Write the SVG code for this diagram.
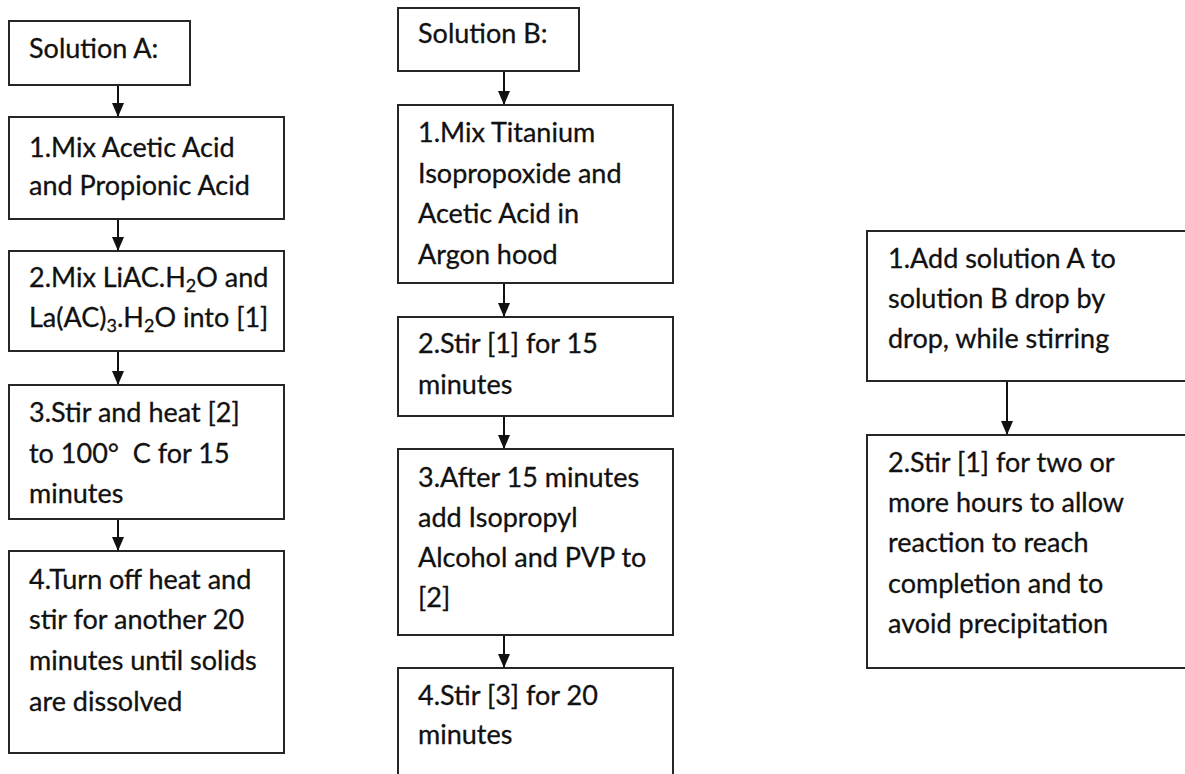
<svg xmlns="http://www.w3.org/2000/svg" width="1185" height="774" viewBox="0 0 1185 774">
<style>
.box{fill:#fff;stroke:#262626;stroke-width:2}
.t{font-family:Lato,"Liberation Sans",sans-serif;font-size:27px;fill:#111;stroke:#111;stroke-width:0.3}
.sub{font-size:18px}
.c{stroke:#111;stroke-width:2;fill:none}
</style>
<defs>
<marker id="ad" markerWidth="14" markerHeight="12" refX="14" refY="6" orient="auto" markerUnits="userSpaceOnUse" viewBox="0 0 14 12">
<path d="M0,0 L14,6 L0,12 Z" fill="#111"/>
</marker>
</defs>
<rect width="1185" height="774" fill="#fff"/>
<g id="connectors">
<line class="c" x1="118" y1="85" x2="118" y2="117" marker-end="url(#ad)"/>
<line class="c" x1="118" y1="219" x2="118" y2="251" marker-end="url(#ad)"/>
<line class="c" x1="118" y1="351" x2="118" y2="385" marker-end="url(#ad)"/>
<line class="c" x1="118" y1="519" x2="118" y2="551" marker-end="url(#ad)"/>
<line class="c" x1="504" y1="71" x2="504" y2="105" marker-end="url(#ad)"/>
<line class="c" x1="504" y1="283" x2="504" y2="317" marker-end="url(#ad)"/>
<line class="c" x1="504" y1="416" x2="504" y2="449" marker-end="url(#ad)"/>
<line class="c" x1="504" y1="635" x2="504" y2="668" marker-end="url(#ad)"/>
<line class="c" x1="1007" y1="381" x2="1007" y2="435" marker-end="url(#ad)"/>
</g>
<g id="solA">
<rect class="box" x="9" y="21" width="181" height="64"/>
<text class="t" x="29" y="58">Solution A:</text>
</g>
<g id="a1">
<rect class="box" x="9" y="117" width="275" height="102"/>
<text class="t" x="29" y="157">1.Mix Acetic Acid</text>
<text class="t" x="29" y="195">and Propionic Acid</text>
</g>
<g id="a2">
<rect class="box" x="9" y="251" width="275" height="100"/>
<text class="t" x="29" y="287">2.Mix LiAC.H<tspan class="sub" dy="5">2</tspan><tspan dy="-5">O and</tspan></text>
<text class="t" x="29" y="327">La(AC)<tspan class="sub" dy="5">3</tspan><tspan dy="-5">.H</tspan><tspan class="sub" dy="5">2</tspan><tspan dy="-5">O into [1]</tspan></text>
</g>
<g id="a3">
<rect class="box" x="9" y="385" width="275" height="134"/>
<text class="t" x="29" y="422">3.Stir and heat [2]</text>
<text class="t" x="29" y="463">to 100°&#160; C for 15</text>
<text class="t" x="29" y="503">minutes</text>
</g>
<g id="a4">
<rect class="box" x="9" y="551" width="275" height="202"/>
<text class="t" x="29" y="589">4.Turn off heat and</text>
<text class="t" x="29" y="629">stir for another 20</text>
<text class="t" x="29" y="670">minutes until solids</text>
<text class="t" x="29" y="711">are dissolved</text>
</g>
<g id="solB">
<rect class="box" x="398" y="8" width="181" height="63"/>
<text class="t" x="418" y="43">Solution B:</text>
</g>
<g id="b1">
<rect class="box" x="398" y="105" width="275" height="178"/>
<text class="t" x="418" y="142">1.Mix Titanium</text>
<text class="t" x="418" y="183">Isopropoxide and</text>
<text class="t" x="418" y="223">Acetic Acid in</text>
<text class="t" x="418" y="264">Argon hood</text>
</g>
<g id="b2">
<rect class="box" x="398" y="317" width="275" height="99"/>
<text class="t" x="418" y="353">2.Stir [1] for 15</text>
<text class="t" x="418" y="394">minutes</text>
</g>
<g id="b3">
<rect class="box" x="398" y="449" width="275" height="186"/>
<text class="t" x="418" y="487">3.After 15 minutes</text>
<text class="t" x="418" y="527">add Isopropyl</text>
<text class="t" x="418" y="567">Alcohol and PVP to</text>
<text class="t" x="418" y="607">[2]</text>
</g>
<g id="b4">
<rect class="box" x="398" y="668" width="275" height="120"/>
<text class="t" x="418" y="705">4.Stir [3] for 20</text>
<text class="t" x="418" y="744">minutes</text>
</g>
<g id="c1">
<rect class="box" x="867" y="231" width="330" height="150"/>
<text class="t" x="888" y="268">1.Add solution A to</text>
<text class="t" x="888" y="308">solution B drop by</text>
<text class="t" x="888" y="348">drop, while stirring</text>
</g>
<g id="c2">
<rect class="box" x="867" y="435" width="330" height="233"/>
<text class="t" x="888" y="472">2.Stir [1] for two or</text>
<text class="t" x="888" y="512">more hours to allow</text>
<text class="t" x="888" y="552">reaction to reach</text>
<text class="t" x="888" y="593">completion and to</text>
<text class="t" x="888" y="633">avoid precipitation</text>
</g>
</svg>
